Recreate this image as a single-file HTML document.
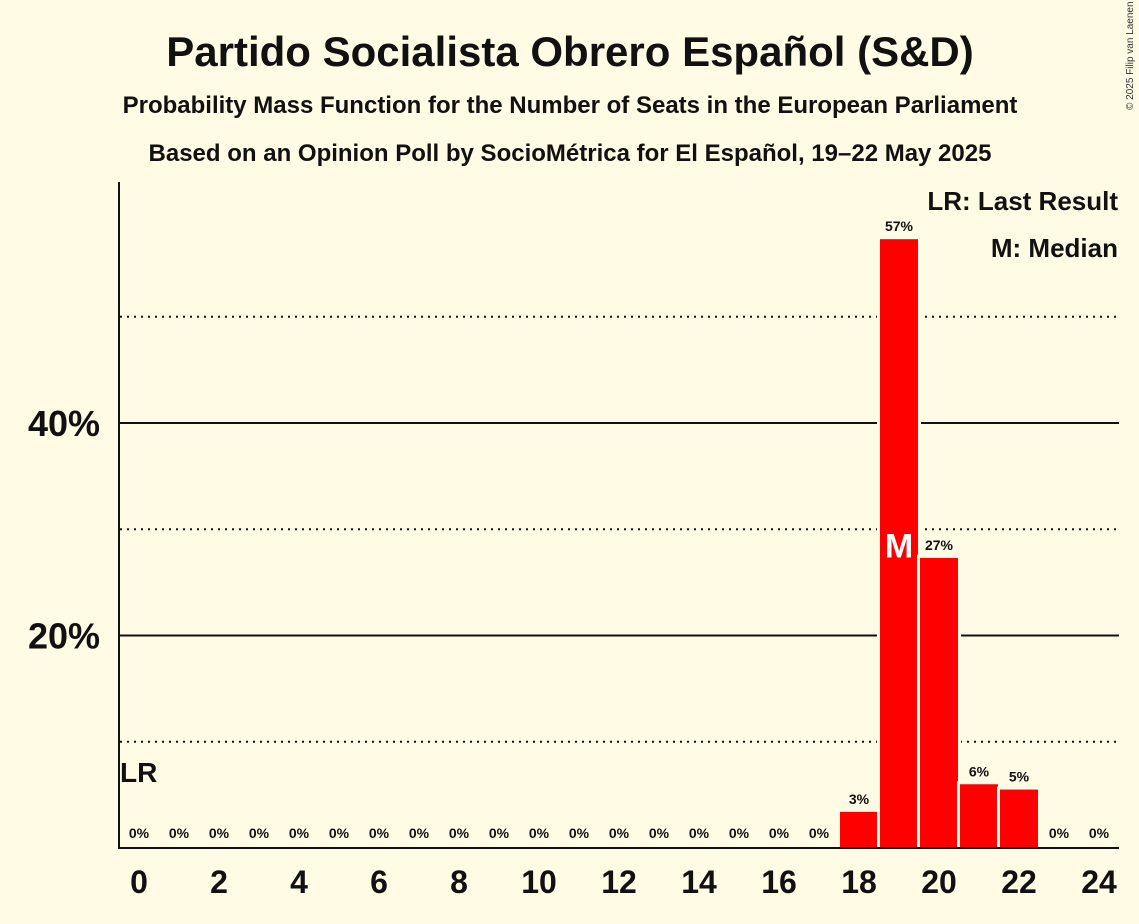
<!DOCTYPE html>
<html><head><meta charset="utf-8"><style>
body{margin:0;background:#fffbe5;}
svg{display:block;font-family:"Liberation Sans",sans-serif;font-weight:bold;}
</style></head><body>
<svg width="1139" height="924">
<rect width="1139" height="924" fill="#fffbe5"/>
<text x="570" y="66" text-anchor="middle" font-size="42" fill="#111">Partido Socialista Obrero Español (S&amp;D)</text>
<text x="570" y="113" text-anchor="middle" font-size="24" fill="#111">Probability Mass Function for the Number of Seats in the European Parliament</text>
<text x="570" y="161" text-anchor="middle" font-size="24" fill="#111">Based on an Opinion Poll by SocioMétrica for El Español, 19–22 May 2025</text>
<text x="1133" y="110" font-size="10" font-weight="normal" fill="#333" transform="rotate(-90 1133 110)">© 2025 Filip van Laenen</text>
<g id="grid"></g>
<g id="bars"></g>
<line x1="119" y1="182" x2="119" y2="849" stroke="#111" stroke-width="2"/>
<line x1="118" y1="848" x2="1119" y2="848" stroke="#111" stroke-width="2"/>
<g id="xt"></g>
<text x="120" y="782" font-size="28" fill="#111">LR</text>
<text x="1118" y="210" text-anchor="end" font-size="26" fill="#111">LR: Last Result</text>
<text x="1118" y="257" text-anchor="end" font-size="26" fill="#111">M: Median</text>
</svg>
<script>
const seats=[0,1,2,3,4,5,6,7,8,9,10,11,12,13,14,15,16,17,18,19,20,21,22,23,24];
const probs=[0,0,0,0,0,0,0,0,0,0,0,0,0,0,0,0,0,0,3.4,57.3,27.3,6.0,5.5,0,0];
const labels=["0%","0%","0%","0%","0%","0%","0%","0%","0%","0%","0%","0%","0%","0%","0%","0%","0%","0%","3%","57%","27%","6%","5%","0%","0%"];
const yTicks=[20,40];
const yDotted=[10,30,50];
const medianSeat=19;
const NS="http://www.w3.org/2000/svg";
const x=s=>139+(s-0)*40;
const y=p=>848-p*10.625;
function mk(t,a,p){const e=document.createElementNS(NS,t);for(const k in a)e.setAttribute(k,a[k]);p.appendChild(e);return e;}
const g=document.getElementById('grid');
yDotted.forEach(v=>{const l=mk('line',{x1:120,x2:1119,y1:y(v),y2:y(v),stroke:'#111','stroke-width':2,'stroke-dasharray':'2 5'},g);

});
yTicks.forEach(v=>{const l=mk('line',{x1:120,x2:1119,y1:y(v),y2:y(v),stroke:'#111','stroke-width':2},g);


const t=mk('text',{x:100,y:y(v)+13,'text-anchor':'end','font-size':36,fill:'#111'},g);t.textContent=v+'%';

});
const b=document.getElementById('bars');
seats.forEach((s,i)=>{const p=probs[i];
if(p>0){mk('rect',{x:x(s)-22,y:y(p)-3,width:44,height:848-y(p)+3,fill:'#fffbe5'},b);
const r=mk('rect',{x:x(s)-19,y:y(p),width:38,height:848-y(p),fill:'#ff0000'},b);

}
const t=mk('text',{x:x(s),y:p>0?y(p)-8:838,'text-anchor':'middle','font-size':14,fill:'#111'},b);t.textContent=labels[i];


if(s===medianSeat){const m=mk('text',{x:x(s),y:y(28)+7,'text-anchor':'middle','font-size':34,fill:'#fff'},b);m.textContent='M';

}
});
const xt=document.getElementById('xt');
seats.filter(s=>s%2===0).forEach(s=>{const t=mk('text',{x:x(s),y:893,'text-anchor':'middle','font-size':32,fill:'#111'},xt);t.textContent=s;

});
</script>
</body></html>
